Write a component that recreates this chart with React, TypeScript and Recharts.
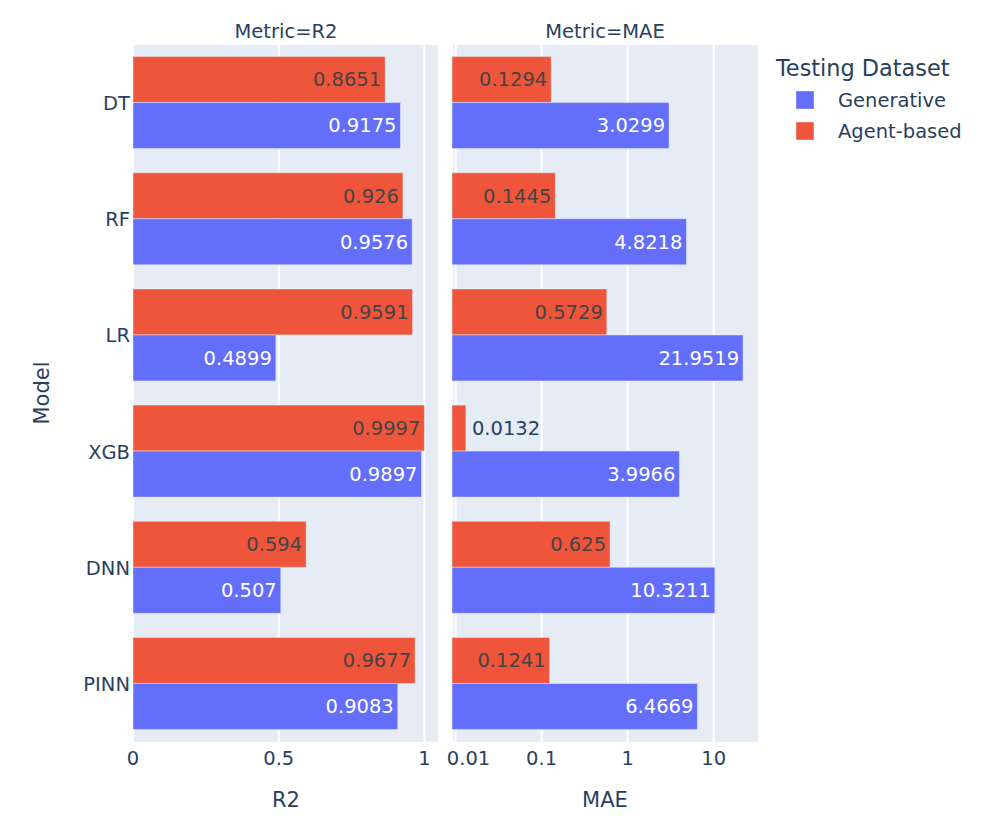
// App.tsx
import React from 'react';
import { BarChart, Bar, XAxis, YAxis, CartesianGrid, LabelList } from 'recharts';

// Data
const models = ['DT', 'RF', 'LR', 'XGB', 'DNN', 'PINN'];
const r2Generative = [0.9175, 0.9576, 0.4899, 0.9897, 0.507, 0.9083];
const r2Agent = [0.8651, 0.926, 0.9591, 0.9997, 0.594, 0.9677];
const maeGenerative = [3.0299, 4.8218, 21.9519, 3.9966, 10.3211, 6.4669];
const maeAgent = [0.1294, 0.1445, 0.5729, 0.0132, 0.625, 0.1241];
const r2Ticks = [0, 0.5, 1];
const maeTicks = [0.01, 0.1, 1, 10];

const r2Data = models.map((model, i) => ({ model, generative: r2Generative[i], agent: r2Agent[i] }));
const maeData = models.map((model, i) => ({ model, generative: maeGenerative[i], agent: maeAgent[i] }));

const BLUE = '#636efa';
const RED = '#EF553B';
const BG = '#E5ECF6';
const TEXT = '#2a3f5f';
const FONT = 19.5;
const FAMILY = '"DejaVu Sans", Verdana, sans-serif';

// rough width of a number string in DejaVu Sans
const textWidth = (s: string) =>
  s.split('').reduce((w, c) => w + (c === '.' ? 0.318 : 0.636), 0) * FONT;

// plotly-like "auto" text position: inside end when it fits, else outside
const makeLabel = (insideColor: string) => (props: any) => {
  const { x, y, width, height, value } = props;
  const text = String(value);
  const cy = y + height / 2;
  if (textWidth(text) + 8 <= width) {
    return (
      <text x={x + width - 4} y={cy} dy="0.35em" textAnchor="end" fill={insideColor} fontSize={FONT} fontFamily={FAMILY}>
        {text}
      </text>
    );
  }
  return (
    <text x={x + width + 6} y={cy} dy="0.35em" textAnchor="start" fill={TEXT} fontSize={FONT} fontFamily={FAMILY}>
      {text}
    </text>
  );
};

const MaeTick = (props: any) => {
  const { x, y, payload } = props;
  const dx = payload.value === 0.01 ? 13 : 0;
  return (
    <text x={x + dx} y={y} dy="0.71em" textAnchor="middle" fill={TEXT} fontSize={FONT} fontFamily={FAMILY}>
      {payload.value}
    </text>
  );
};

const bars = (
  [
    <Bar key="agent" dataKey="agent" fill={RED} stroke={BG} strokeWidth={0.5} isAnimationActive={false}>
      <LabelList dataKey="agent" content={makeLabel('#444')} />
    </Bar>,
    <Bar key="gen" dataKey="generative" fill={BLUE} stroke={BG} strokeWidth={0.5} isAnimationActive={false}>
      <LabelList dataKey="generative" content={makeLabel('#fff')} />
    </Bar>,
  ]
);

const App: React.FC = () => {
  return (
    <div style={{ position: 'absolute', left: 0, top: 0, width: 997, height: 835, background: '#fff', fontFamily: FAMILY }}>
      {/* R2 panel */}
      <div style={{ position: 'absolute', left: 0, top: 0 }}>
        <BarChart
          width={460}
          height={835}
          data={r2Data}
          layout="vertical"
          margin={{ top: 45, right: 21, bottom: 53, left: 0 }}
          barCategoryGap="10%"
          barGap={0}
        >
          <CartesianGrid fill={BG} stroke="#fff" strokeWidth={2} horizontal={false} />
          <XAxis
            type="number"
            domain={[0, 1.0497]}
            allowDataOverflow
            ticks={r2Ticks}
            height={40}
            tickLine={false}
            axisLine={false}
            tickMargin={3}
            tick={{ fill: TEXT, fontSize: FONT, fontFamily: FAMILY }}
          />
          <YAxis
            type="category"
            dataKey="model"
            width={133}
            tickLine={false}
            axisLine={false}
            tickSize={0}
            tickMargin={3}
            tick={{ fill: TEXT, fontSize: FONT, fontFamily: FAMILY }}
          />
          {bars}
        </BarChart>
      </div>

      {/* MAE panel */}
      <div style={{ position: 'absolute', left: 400, top: 0 }}>
        <BarChart
          width={400}
          height={835}
          data={maeData}
          layout="vertical"
          margin={{ top: 45, right: 41, bottom: 53, left: 52 }}
          barCategoryGap="10%"
          barGap={0}
        >
          <CartesianGrid fill={BG} stroke="#fff" strokeWidth={2} horizontal={false} />
          <XAxis
            type="number"
            scale="log"
            domain={[0.0091, 33.6]}
            allowDataOverflow
            ticks={maeTicks}
            height={40}
            tickLine={false}
            axisLine={false}
            tickMargin={3}
            tick={<MaeTick />}
          />
          <YAxis type="category" dataKey="model" hide />
          {bars}
        </BarChart>
      </div>

      {/* titles and legend */}
      <svg width={997} height={835} style={{ position: 'absolute', left: 0, top: 0, pointerEvents: 'none' }} fontFamily={FAMILY}>
        <text x={286} y={31} dy="0.35em" textAnchor="middle" fill={TEXT} fontSize={FONT}>Metric=R2</text>
        <text x={605} y={31} dy="0.35em" textAnchor="middle" fill={TEXT} fontSize={FONT}>Metric=MAE</text>
        <text x={286} y={800} dy="0.35em" textAnchor="middle" fill={TEXT} fontSize={21}>R2</text>
        <text x={605} y={800} dy="0.35em" textAnchor="middle" fill={TEXT} fontSize={21}>MAE</text>
        <text x={42} y={393} dy="0.35em" textAnchor="middle" fill={TEXT} fontSize={21} transform="rotate(-90 42 393)">Model</text>

        <text x={776} y={68} dy="0.35em" fill={TEXT} fontSize={22.4}>Testing Dataset</text>
        <rect x={796} y={91} width={18} height={18} fill={BLUE} stroke={BG} strokeWidth={0.5} />
        <text x={838} y={100} dy="0.35em" fill={TEXT} fontSize={FONT}>Generative</text>
        <rect x={796} y={122} width={18} height={18} fill={RED} stroke={BG} strokeWidth={0.5} />
        <text x={838} y={131} dy="0.35em" fill={TEXT} fontSize={FONT}>Agent-based</text>
      </svg>
    </div>
  );
};

export default App;
